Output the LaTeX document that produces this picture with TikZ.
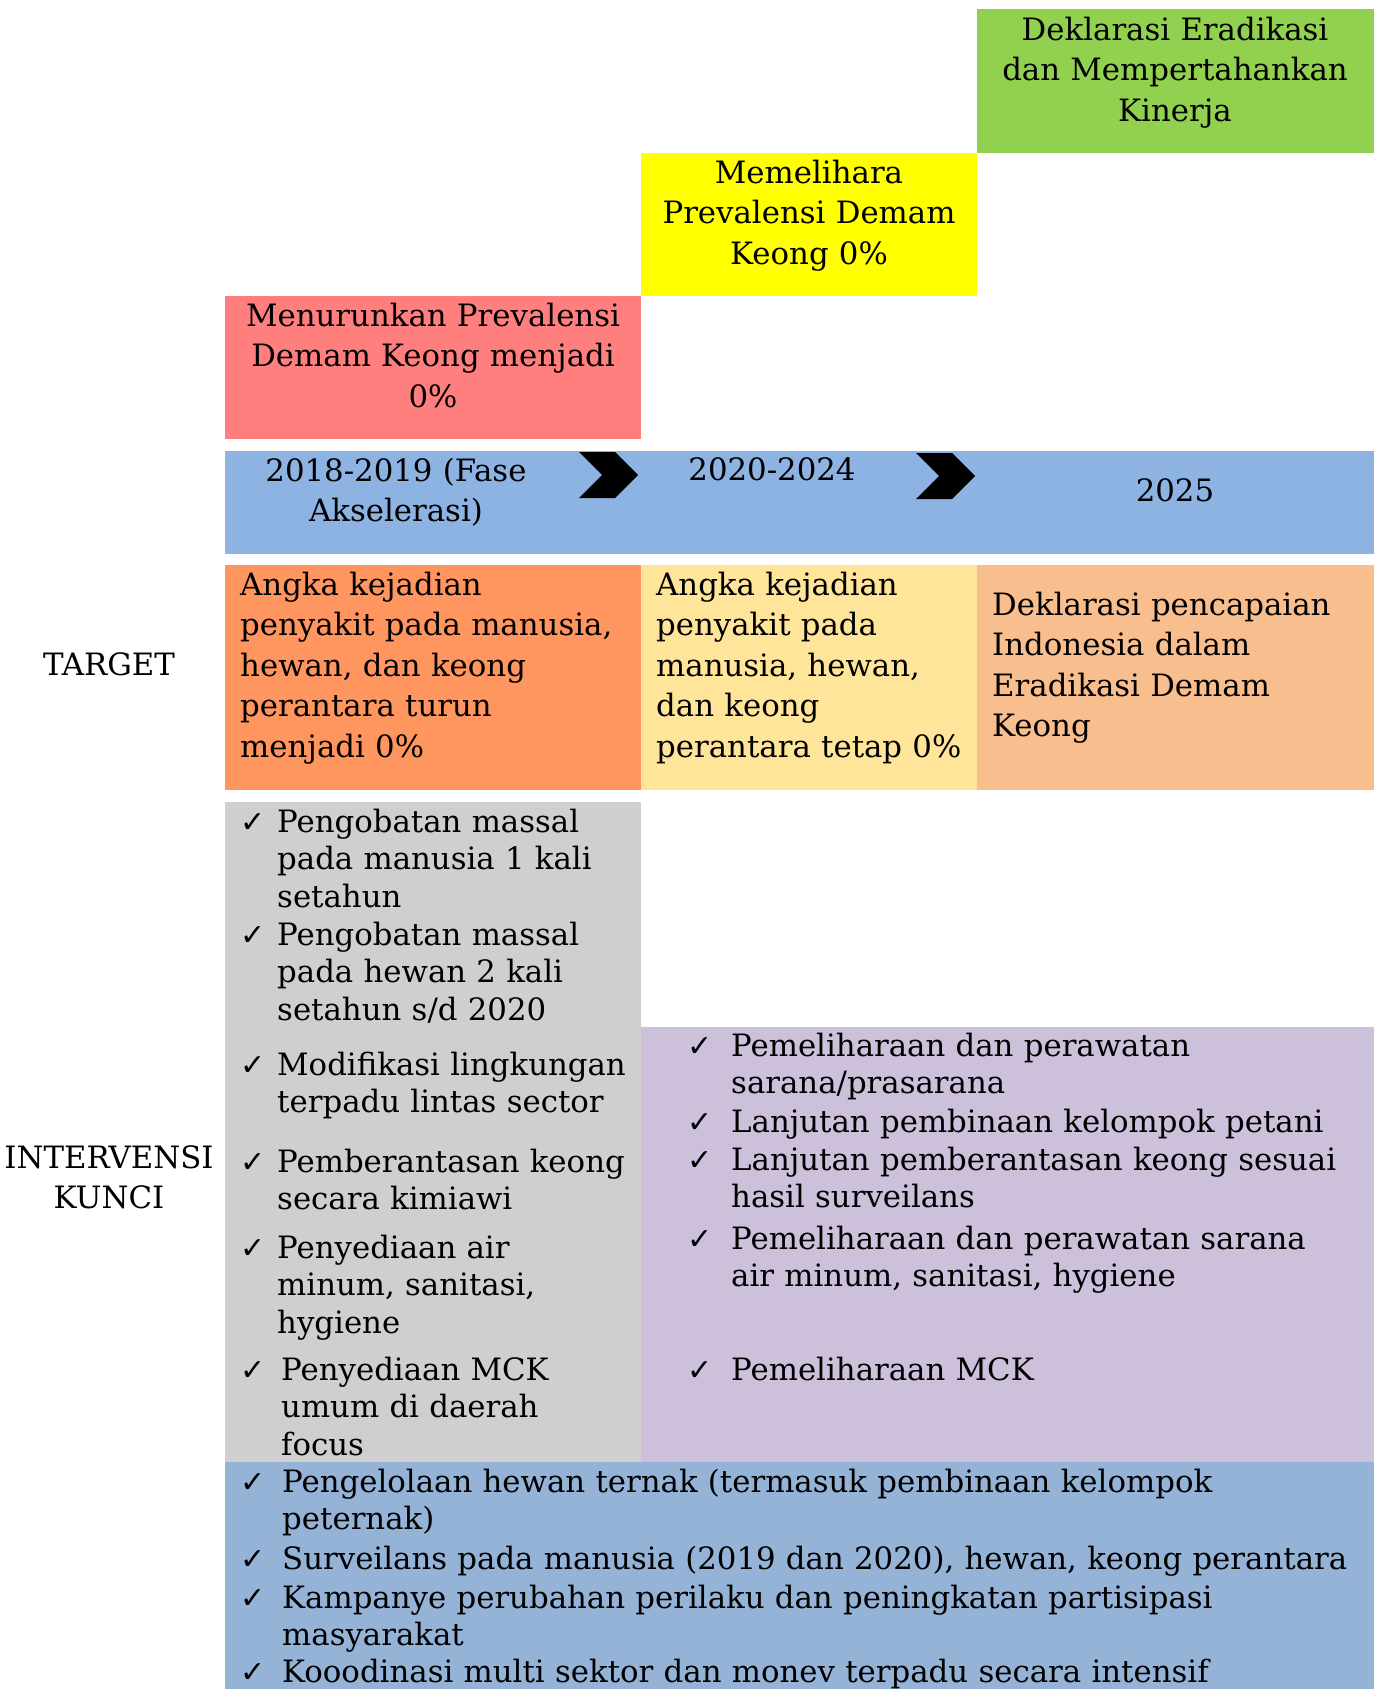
\documentclass[tikz,border=0pt]{standalone}
\usepackage{fontspec}
\setmainfont{DejaVu Serif}
\newfontfamily\symfont{DejaVu Sans}
\definecolor{cGreen}{HTML}{92D050}
\definecolor{cYellow}{HTML}{FFFF00}
\definecolor{cRed}{HTML}{FF7F7F}
\definecolor{cTime}{HTML}{8DB3E2}
\definecolor{cOrange}{HTML}{FF955F}
\definecolor{cLYellow}{HTML}{FFE599}
\definecolor{cPeach}{HTML}{F8BE8D}
\definecolor{cGray}{HTML}{D0CECE}
\definecolor{cPurple}{HTML}{CCC0DA}
\definecolor{cBottom}{HTML}{95B3D7}
\begin{document}
\begin{tikzpicture}[x=1pt,y=-1pt,
  box/.style={fill=#1,draw=none,inner sep=0pt,outer sep=0pt,anchor=north west},
  headtxt/.style={font=\fontsize{30.8}{40.5}\selectfont,inner sep=0pt,anchor=base,align=center,text width=#1},
  bodytxt/.style={font=\fontsize{30.8}{40.5}\selectfont,inner sep=0pt,anchor=base west,align=left,text width=600pt},
  listtxt/.style={font=\fontsize{30.8}{37.5}\selectfont,inner sep=0pt,anchor=base west,align=left,text width=1100pt},
  chk/.style={font=\symfont\fontsize{30}{30}\selectfont,inner sep=0pt,anchor=base west},
  chev/.style={fill=black,draw=none}]
\useasboundingbox (0,0) rectangle (1374,1689);
% boxes
\node[box=cGreen,minimum width=397pt,minimum height=144pt] (green) at (977,9) {};
\node[box=cYellow,minimum width=336pt,minimum height=143pt] (yellow) at (641,153) {};
\node[box=cRed,minimum width=416pt,minimum height=143pt] (red) at (225,296) {};
\node[box=cTime,minimum width=1149pt,minimum height=103pt] (time) at (225,451) {};
\node[box=cOrange,minimum width=416pt,minimum height=225pt] (orange) at (225,565) {};
\node[box=cLYellow,minimum width=336pt,minimum height=225pt] (lyellow) at (641,565) {};
\node[box=cPeach,minimum width=397pt,minimum height=225pt] (peach) at (977,565) {};
\node[box=cGray,minimum width=416pt,minimum height=660pt] (gray) at (225,802) {};
\node[box=cPurple,minimum width=733pt,minimum height=435pt] (purple) at (641,1027) {};
\node[box=cBottom,minimum width=1149pt,minimum height=227pt] (bottom) at (225,1462) {};
% chevrons
\fill[chev] (579,452) -- (615,452) -- (638,475) -- (615,498) -- (579,498) -- (602,475) -- cycle;
\fill[chev] (916,453) -- (952,453) -- (975,476) -- (952,499) -- (916,499) -- (939,476) -- cycle;
% header texts
\node[headtxt=397pt] (tgreen) at (1175,40) {Deklarasi Eradikasi\\dan Mempertahankan\\Kinerja};
\node[headtxt=336pt] (tyellow) at (809,183) {Memelihara\\Prevalensi Demam\\Keong 0\%};
\node[headtxt=416pt] (tred) at (433,326) {Menurunkan Prevalensi\\Demam Keong menjadi\\0\%};
% timeline
\node[headtxt=380pt] (y1) at (396,481) {2018-2019 (Fase\\Akselerasi)};
\node[headtxt=300pt] (y2) at (772,480) {2020-2024};
\node[headtxt=300pt] (y3) at (1175,501) {2025};
% side labels
\node[headtxt=220pt] (ltarget) at (109,675) {TARGET};
\node[headtxt=220pt] (linterv) at (109,1168) {INTERVENSI\\KUNCI};
% target texts
\node[bodytxt] (to) at (240,595) {Angka kejadian\\penyakit pada manusia,\\hewan, dan keong\\perantara turun\\menjadi 0\%};
\node[bodytxt] (tl) at (656,595) {Angka kejadian\\penyakit pada\\manusia, hewan,\\dan keong\\perantara tetap 0\%};
\node[bodytxt] (tp) at (992,615) {Deklarasi pencapaian\\Indonesia dalam\\Eradikasi Demam\\Keong};
% gray list
\foreach \n/\yy/\xx/\t in {
  g1/832/277/{Pengobatan massal\\pada manusia 1 kali\\setahun},
  g2/945/277/{Pengobatan massal\\pada hewan 2 kali\\setahun s/d 2020},
  g3/1075/277/{Modifikasi lingkungan\\terpadu lintas sector},
  g4/1172/277/{Pemberantasan keong\\secara kimiawi},
  g5/1258/277/{Penyediaan air\\minum, sanitasi,\\hygiene},
  g6/1380/281/{Penyediaan MCK\\umum di daerah\\focus}} {
  \node[chk] (c\n) at (240,\yy) {✓};
  \node[listtxt] (\n) at (\xx,\yy) {\t};
}
% purple list
\foreach \n/\yy/\t in {
  p1/1056/{Pemeliharaan dan perawatan\\sarana/prasarana},
  p2/1132/{Lanjutan pembinaan kelompok petani},
  p3/1170/{Lanjutan pemberantasan keong sesuai\\hasil surveilans},
  p4/1249/{Pemeliharaan dan perawatan sarana\\air minum, sanitasi, hygiene},
  p5/1380/{Pemeliharaan MCK}} {
  \node[chk] (c\n) at (687,\yy) {✓};
  \node[listtxt] (\n) at (731,\yy) {\t};
}
% bottom list
\foreach \n/\yy/\t in {
  b1/1492/{Pengelolaan hewan ternak (termasuk pembinaan kelompok\\peternak)},
  b2/1569/{Surveilans pada manusia (2019 dan 2020), hewan, keong perantara},
  b3/1608/{Kampanye perubahan perilaku dan peningkatan partisipasi\\masyarakat},
  b4/1682/{Kooodinasi multi sektor dan monev terpadu secara intensif}} {
  \node[chk] (c\n) at (240,\yy) {✓};
  \node[listtxt] (\n) at (282,\yy) {\t};
}
\end{tikzpicture}
\end{document}
